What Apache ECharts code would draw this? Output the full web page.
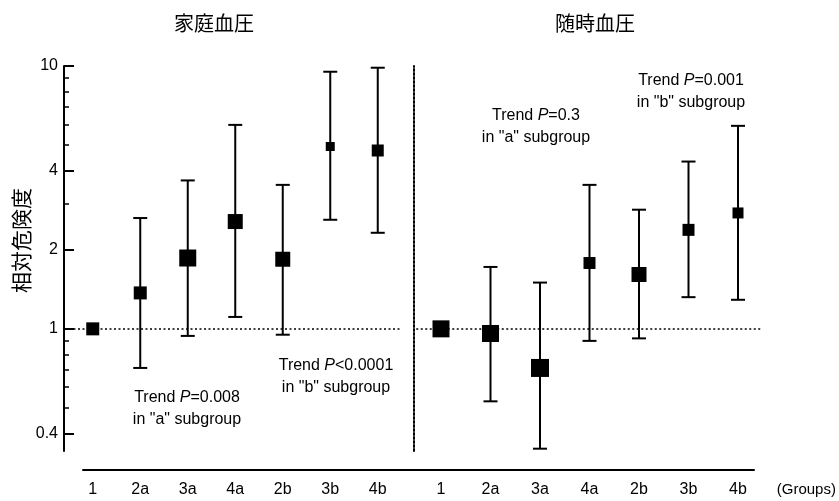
<!DOCTYPE html>
<html><head><meta charset="utf-8">
<script src="https://cdn.jsdelivr.net/npm/echarts@6/dist/echarts.min.js"></script>
<style>html,body{margin:0;padding:0;background:#fff}#c{width:839px;height:501px}</style>
</head><body><div id="c"></div>
<script>
// ---- data ----
const groups = ['1', '2a', '3a', '4a', '2b', '3b', '4b'];
const homeRR   = [1.0, 1.37, 1.86, 2.56, 1.84, 4.94, 4.77];
const homeLow  = [null, 0.71, 0.94, 1.11, 0.95, 2.60, 2.32];
const homeHigh = [null, 2.64, 3.67, 5.97, 3.53, 9.51, 9.85];
const officeRR   = [1.0, 0.96, 0.71, 1.78, 1.61, 2.38, 2.76];
const officeLow  = [null, 0.53, 0.35, 0.90, 0.92, 1.32, 1.29];
const officeHigh = [null, 1.72, 1.50, 3.53, 2.84, 4.33, 5.92];
const majorTicks = [0.4, 1, 2, 4, 10];
const minorTicks = [0.5, 0.6, 0.7, 0.8, 0.9, 3, 5, 6, 7, 8, 9];
const panelTitles = ['家庭血圧', '随時血圧'];
const yAxisName = '相対危険度';

// ---- styles ----
const homeSizes = [13, 13, 17, 15, 15, 9, 12];
const officeSizes = [17, 17, 18, 12, 15, 12, 11];
const LAT = '"Liberation Sans", Arial, sans-serif';
const CJK = '"Noto Sans CJK JP", sans-serif';
const Y_MIN = 0.343, Y_MAX = 10;

const chart = echarts.init(document.getElementById('c'), null, {renderer: 'canvas'});

function errBars(xi, yi, lows, highs) {
  return {
    type: 'custom', xAxisIndex: xi, yAxisIndex: yi, z: 2,
    data: groups.map((g, i) => [i, lows[i], highs[i]]).filter(d => d[1] != null),
    encode: {x: 0, y: [1, 2]},
    renderItem(params, api) {
      const x = api.value(0);
      const lo = api.coord([x, api.value(1)]);
      const hi = api.coord([x, api.value(2)]);
      const w = 7;
      const style = {stroke: '#000', lineWidth: 2};
      return {type: 'group', children: [
        {type: 'line', shape: {x1: lo[0], y1: lo[1], x2: hi[0], y2: hi[1]}, style},
        {type: 'line', shape: {x1: lo[0] - w, y1: lo[1], x2: lo[0] + w, y2: lo[1]}, style},
        {type: 'line', shape: {x1: hi[0] - w, y1: hi[1], x2: hi[0] + w, y2: hi[1]}, style}
      ]};
    }
  };
}
function points(xi, yi, vals, sizes) {
  return {
    type: 'scatter', xAxisIndex: xi, yAxisIndex: yi, z: 3,
    data: vals, symbol: 'rect',
    symbolSize: (v, p) => sizes[p.dataIndex],
    itemStyle: {color: '#000', opacity: 1},
    emphasis: {disabled: true},
    markLine: {
      silent: true, symbol: 'none', label: {show: false},
      lineStyle: {color: '#000', type: [2, 2.5], width: 1.5},
      data: [{yAxis: 1}]
    }
  };
}
function catAxis(gi, name) {
  const a = {
    type: 'category', gridIndex: gi, data: groups,
    axisLine: {show: false}, axisTick: {show: false},
    axisLabel: {margin: 31, fontSize: 16, color: '#000', fontFamily: LAT},
    splitLine: {show: false}
  };
  if (name) {
    a.name = name; a.nameLocation = 'end'; a.nameGap = 14;
    a.nameTextStyle = {fontSize: 15, color: '#000', fontFamily: LAT, verticalAlign: 'top', padding: [31, 0, 0, 0]};
  }
  return a;
}
function annotText(x, y, pText, sub) {
  return {
    type: 'text', x, y, z: 10,
    style: {
      text: 'Trend {i|P}' + pText + '\nin "' + sub + '" subgroup',
      rich: {i: {fontStyle: 'italic', fontSize: 16, fontFamily: LAT, lineHeight: 22, fill: '#000'}},
      fontSize: 16, fontFamily: LAT, fill: '#000', lineHeight: 22,
      align: 'center', verticalAlign: 'middle'
    }
  };
}

const option = {
  animation: false,
  backgroundColor: '#fff',
  title: [
    {text: panelTitles[0], left: 209, top: 8, textAlign: 'center',
     textStyle: {fontSize: 20, fontWeight: 'normal', fontFamily: CJK, color: '#000'}},
    {text: panelTitles[1], left: 590, top: 8, textAlign: 'center',
     textStyle: {fontSize: 20, fontWeight: 'normal', fontFamily: CJK, color: '#000'}}
  ],
  grid: [
    {left: 69, width: 332.5, top: 66, bottom: 50},
    {left: 416.25, width: 346.5, top: 66, bottom: 50},
    {left: 83, right: 85, top: 400, bottom: 31}
  ],
  xAxis: [
    catAxis(0),
    catAxis(1, '(Groups)'),
    {type: 'value', gridIndex: 2, min: 0, max: 1,
     axisLine: {show: true, onZero: false, lineStyle: {color: '#000', width: 2}},
     axisTick: {show: false}, axisLabel: {show: false}, splitLine: {show: false}}
  ],
  yAxis: [
    {type: 'log', logBase: 10, gridIndex: 0, min: Y_MIN, max: Y_MAX, position: 'left', offset: 5,
     axisLine: {show: true, lineStyle: {color: '#000', width: 2}},
     axisTick: {show: true, inside: true, length: 10, customValues: majorTicks, lineStyle: {color: '#000', width: 2}},
     axisLabel: {customValues: majorTicks, margin: 6, fontSize: 16, color: '#000', fontFamily: LAT,
                 formatter: v => String(+(+v).toPrecision(6))},
     splitLine: {show: false}, minorTick: {show: false},
     name: yAxisName, nameLocation: 'middle', nameGap: 31, nameRotate: 90,
     nameTextStyle: {fontSize: 21, color: '#000', fontFamily: CJK, padding: [0, 0, 0, 36]}},
    {type: 'log', logBase: 10, gridIndex: 0, min: Y_MIN, max: Y_MAX, position: 'left', offset: 5,
     axisLine: {show: false},
     axisTick: {show: true, inside: true, length: 5, customValues: minorTicks, lineStyle: {color: '#000', width: 1.5}},
     axisLabel: {show: false}, splitLine: {show: false}},
    {type: 'log', logBase: 10, gridIndex: 1, min: Y_MIN, max: Y_MAX, position: 'left', offset: 3,
     axisLine: {show: true, lineStyle: {color: '#000', width: 2, type: [2, 2]}},
     axisTick: {show: false}, axisLabel: {show: false}, splitLine: {show: false}},
    {type: 'value', gridIndex: 2, show: false, min: 0, max: 1}
  ],
  series: [
    errBars(0, 0, homeLow, homeHigh),
    points(0, 0, homeRR, homeSizes),
    errBars(1, 2, officeLow, officeHigh),
    points(1, 2, officeRR, officeSizes)
  ],
  graphic: [
    annotText(187, 409, '=0.008', 'a'),
    annotText(336, 377, '<0.0001', 'b'),
    annotText(536, 127, '=0.3', 'a'),
    annotText(691, 92, '=0.001', 'b')
  ]
};
chart.setOption(option);
</script>
</body></html>
